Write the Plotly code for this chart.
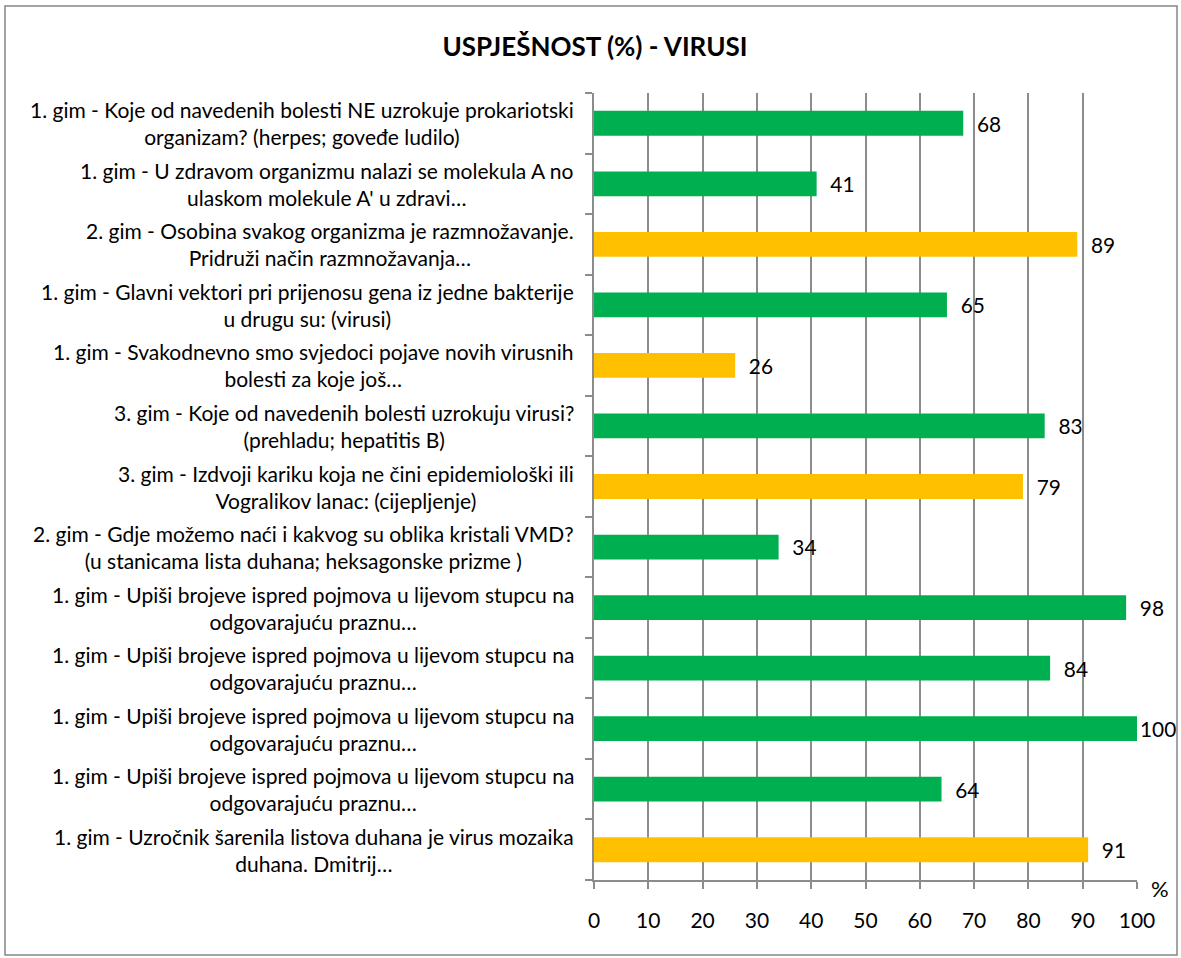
import plotly.graph_objects as go

categories = [
    "1. gim - Koje od navedenih bolesti NE uzrokuje prokariotski<br>organizam? (herpes; goveđe ludilo)",
    "1. gim - U zdravom organizmu nalazi se molekula A no<br>ulaskom molekule A' u zdravi…",
    "2. gim - Osobina svakog organizma je razmnožavanje.<br>Pridruži način razmnožavanja…",
    "1. gim - Glavni vektori pri prijenosu gena iz jedne bakterije<br>u drugu su: (virusi)",
    "1. gim - Svakodnevno smo svjedoci pojave novih virusnih<br>bolesti za koje još…",
    "3. gim - Koje od navedenih bolesti uzrokuju virusi?<br>(prehladu; hepatitis B)",
    "3. gim - Izdvoji kariku koja ne čini epidemiološki ili<br>Vogralikov lanac: (cijepljenje)",
    "2. gim - Gdje možemo naći i kakvog su oblika kristali VMD?<br>(u stanicama lista duhana; heksagonske prizme )",
    "1. gim - Upiši brojeve ispred pojmova u lijevom stupcu na<br>odgovarajuću praznu…",
    "1. gim - Upiši brojeve ispred pojmova u lijevom stupcu na<br>odgovarajuću praznu…",
    "1. gim - Upiši brojeve ispred pojmova u lijevom stupcu na<br>odgovarajuću praznu…",
    "1. gim - Upiši brojeve ispred pojmova u lijevom stupcu na<br>odgovarajuću praznu…",
    "1. gim - Uzročnik šarenila listova duhana je virus mozaika<br>duhana. Dmitrij…",
]
values = [68, 41, 89, 65, 26, 83, 79, 34, 98, 84, 100, 64, 91]
groups = ["g", "g", "y", "g", "y", "g", "y", "g", "g", "g", "g", "g", "y"]
x_ticks = [0, 10, 20, 30, 40, 50, 60, 70, 80, 90, 100]

GREEN = "#00B050"
YELLOW = "#FFC000"
GRID = "#8C8C8C"
FONT = "Lato"

# plot area in pixels
L, R, T, B = 594, 1137, 93, 880
PW, PH = R - L, B - T

positions = list(range(len(categories)))
colors = [GREEN if g == "g" else YELLOW for g in groups]
texts = [("\u00a0\u00a0" if v < 100 else "") + str(v) for v in values]

fig = go.Figure()
fig.add_trace(go.Bar(
    y=positions, x=values, orientation="h",
    marker=dict(color=colors, line=dict(width=0)),
    width=0.41,
    text=texts, textposition="outside",
    textfont=dict(family=FONT, size=21, color="#000000"),
    cliponaxis=False,
    hoverinfo="skip",
))

for p, c in zip(positions, categories):
    fig.add_annotation(
        x=-18 / PW, xref="paper", y=p, yref="y",
        text=c, showarrow=False, xanchor="right", yanchor="middle",
        align="center", font=dict(family=FONT, size=21, color="#000000"),
    )

fig.add_annotation(
    x=(1160 - L) / PW, xref="paper", y=(B - 888) / PH, yref="paper",
    text="%", showarrow=False, xanchor="center", yanchor="middle",
    font=dict(family=FONT, size=22, color="#000000"),
)

fig.add_shape(
    type="rect", xref="paper", yref="paper",
    x0=(5 - L) / PW, x1=(1177 - L) / PW,
    y0=(B - 955) / PH, y1=(B - 6) / PH,
    line=dict(color="#868686", width=1.5), fillcolor="rgba(0,0,0,0)", layer="below",
)

fig.update_layout(
    width=1181, height=958,
    margin=dict(l=L, r=1181 - R, t=T, b=958 - B),
    paper_bgcolor="#FFFFFF", plot_bgcolor="#FFFFFF",
    showlegend=False,
    title=dict(
        text="<b>USPJEŠNOST (%) - VIRUSI</b>",
        x=595 / 1181, xref="container", xanchor="center",
        y=1 - 47 / 958, yref="container", yanchor="middle",
        font=dict(family=FONT, size=26, color="#000000"),
    ),
    xaxis=dict(
        range=[0, 100], tickvals=x_ticks, ticktext=[str(t) for t in x_ticks],
        showgrid=True, gridcolor=GRID, gridwidth=1.5,
        showline=True, linecolor=GRID, linewidth=1.5,
        ticks="outside", ticklen=7, tickcolor=GRID, tickwidth=1.5,
        tickfont=dict(family=FONT, size=21, color="#000000"),
        ticklabelstandoff=14,
        zeroline=False, fixedrange=True,
    ),
    yaxis=dict(
        range=[len(categories) - 0.5, -0.5],
        tickvals=[i - 0.5 for i in range(len(categories) + 1)],
        showticklabels=False,
        showgrid=False, zeroline=False,
        showline=True, linecolor=GRID, linewidth=1.5,
        ticks="outside", ticklen=7, tickcolor=GRID, tickwidth=1.5,
        fixedrange=True,
    ),
    bargap=0.59,
)

fig.write_html(
    "out.html",
    config={"displayModeBar": False},
    post_script="document.body.style.margin='0';document.body.style.overflow='hidden';",
)
